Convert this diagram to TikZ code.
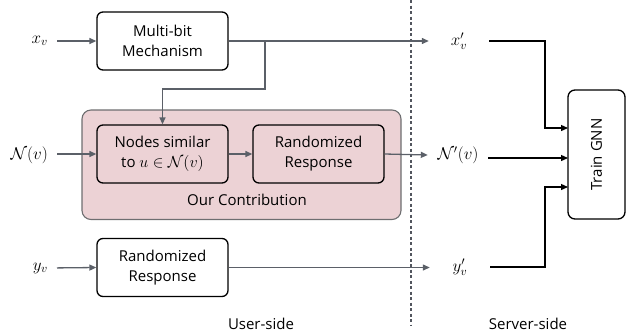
\RequirePackage{fix-cm}
\documentclass[tikz,border=0pt]{standalone}
\usepackage{fontspec}
\setmainfont{Open Sans}
\usetikzlibrary{arrows.meta}
\definecolor{arrgray}{HTML}{5B6068}
\definecolor{pinkfill}{HTML}{ECD2D5}
\definecolor{pinkborder}{HTML}{6E6E70}
\begin{document}
\begin{tikzpicture}[x=1pt,y=-1pt,
  every node/.style={font=\fontsize{15}{20}\selectfont},
  box/.style={draw=black, line width=1.3pt, rounded corners=6pt, fill=white,
    minimum width=131pt, minimum height=58pt, align=center, inner sep=0pt},
  boxpink/.style={box, fill=pinkfill},
  contrib/.style={draw=pinkborder, line width=1.1pt, rounded corners=9pt, fill=pinkfill,
    minimum width=319pt, minimum height=109.5pt, inner sep=0pt},
  inlab/.style={anchor=east, inner sep=0pt, font=\fontsize{17}{20}\selectfont},
  outlab/.style={minimum width=60pt, inner sep=0pt, font=\fontsize{17}{20}\selectfont},
  garrow/.style={draw=arrgray, line width=1.3pt, -{Triangle[length=7pt,width=6pt]}},
  gline/.style={draw=arrgray, line width=1.3pt},
  barrow/.style={draw=black, line width=1.3pt, -{Triangle[length=7pt,width=6pt]}},
  sidelab/.style={inner sep=0pt}
]
\useasboundingbox (0,0) rectangle (626,333);

% pink contribution area
\node[contrib] (oc) at (241.5,164.75) {};
\node[sidelab] (octxt) at (247,200) {Our Contribution};

% boxes
\node[box] (mb) at (162.5,41) {Multi-bit\\Mechanism};
\node[boxpink] (ns) at (162.5,154) {Nodes similar\\to {\fontsize{16}{20}\selectfont$u\in\mathcal{N}(v)$}};
\node[boxpink] (rr1) at (318.5,154) {Randomized\\Response};
\node[box] (rr2) at (162.5,267.5) {Randomized\\Response};
\node[draw=black, line width=1.3pt, rounded corners=7pt, fill=white,
  minimum width=57pt, minimum height=129pt, inner sep=0pt] (gnn) at (596.5,154.5) {};
\node[rotate=90, inner sep=0pt] (gnntxt) at (gnn.center) {Train GNN};

% input labels
\node[inlab] (xv) at (48,41) {$x_v$};
\node[inlab] (nv) at (48,155) {$\mathcal{N}(v)$};
\node[inlab] (yv) at (48,268) {$y_v$};

% output labels
\node[outlab] (xvp) at (459,41) {$x_v'$};
\node[outlab] (nvp) at (458,155) {$\mathcal{N}'(v)$};
\node[outlab] (yvp) at (460,267) {$y_v'$};

% dashed separator
\coordinate (dtop) at (411,0);
\coordinate (dbot) at (411,326);
\draw[draw=arrgray!90!black, line width=1.1pt, dash pattern=on 3pt off 2.5pt] (dtop) -- (dbot);

% side labels
\node[sidelab] (user) at (261,324) {User-side};
\node[sidelab] (server) at (528,324) {Server-side};

% left arrows
\draw[garrow, shorten <=9pt] (xv.east) -- (mb.west);
\draw[garrow, shorten <=9pt] (nv.east |- ns.west) -- (ns.west);
\draw[garrow, shorten <=9pt] (yv.east) -- (rr2.west);

% user-side connections
\draw[garrow] (mb.east) -- (xvp.west);
\coordinate (br) at (265,41);
\coordinate (brd) at (265,89);
\draw[garrow] (br) -- (brd) -| (ns.north);
\draw[garrow] (ns.east) -- (rr1.west);
\draw[garrow] (rr1.east) -- (nvp.west);
\draw[garrow] (rr2.east) -- (yvp.west |- rr2.east);

% server-side connections
\coordinate (g1) at (568,128);
\coordinate (g2) at (568,158);
\coordinate (g3) at (568,187);
\coordinate (t1) at (545,41);
\coordinate (t3) at (545,267);
\draw[barrow] (xvp.east) -- (t1) |- (g1);
\draw[barrow] (nvp.east |- g2) -- (g2);
\draw[barrow] (yvp.east) -- (t3) |- (g3);
\end{tikzpicture}
\end{document}
